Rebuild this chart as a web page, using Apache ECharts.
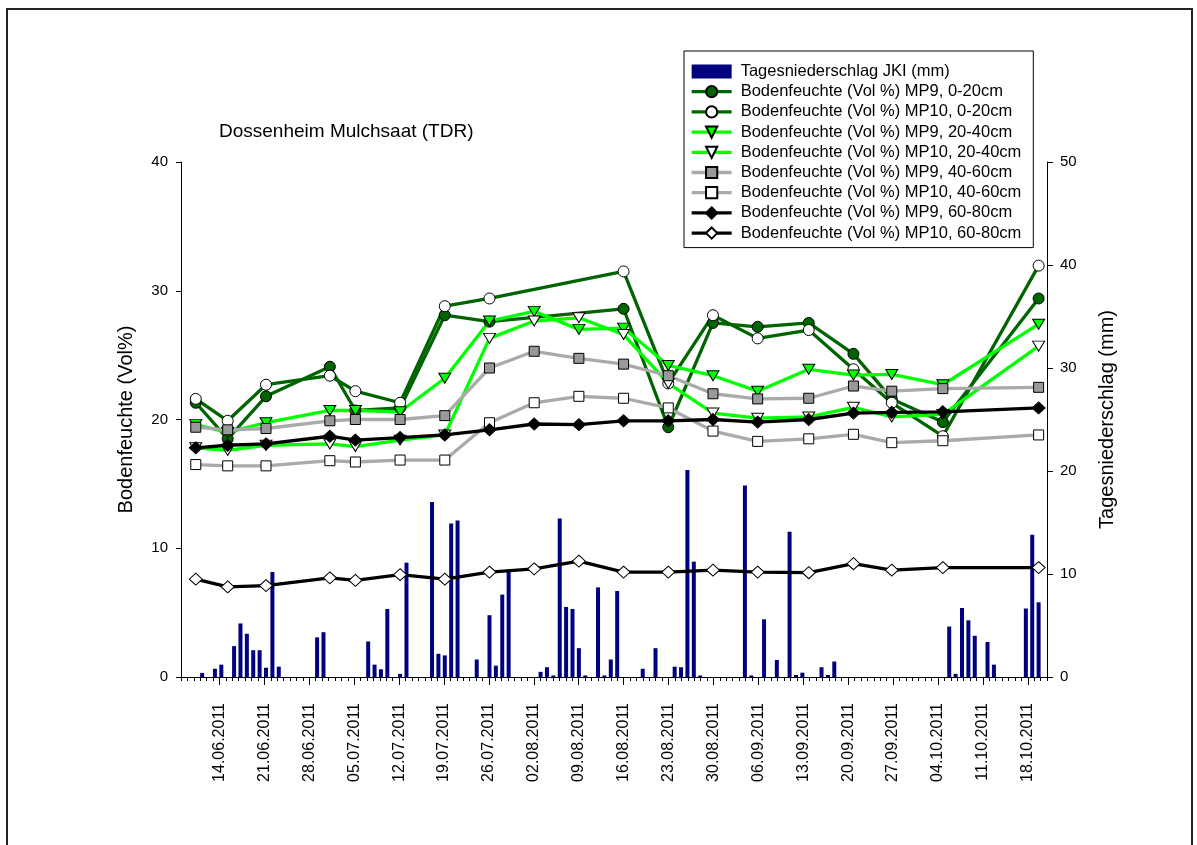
<!DOCTYPE html>
<html><head><meta charset="utf-8">
<script src="https://cdn.jsdelivr.net/npm/echarts@6/dist/echarts.min.js"></script>
<style>html,body{margin:0;padding:0;background:#fff}#c{width:1197px;height:845px}</style>
</head><body><div id="c"></div>
<script>
// ---- data ----
const soilDates = ['2011-06-10','2011-06-15','2011-06-21','2011-07-01','2011-07-05','2011-07-12','2011-07-19','2011-07-26','2011-08-02','2011-08-09','2011-08-16','2011-08-23','2011-08-30','2011-09-06','2011-09-14','2011-09-21','2011-09-27','2011-10-05','2011-10-20'];
const mp9_0_20   = [21.3, 18.5, 21.8, 24.1, 20.7, 20.9, 28.1, 27.6, null, null, 28.6, 19.4, 27.5, 27.2, 27.5, 25.1, 21.6, 19.8, 29.4];
const mp10_0_20  = [21.6, 19.9, 22.7, 23.4, 22.2, 21.3, 28.8, 29.4, null, null, 31.5, 22.8, 28.1, 26.3, 26.95, 23.9, 21.3, 18.7, 31.95];
const mp9_20_40  = [19.6, 19.0, 19.75, 20.7, 20.7, 20.6, 23.2, 27.65, 28.4, 27.0, 27.1, 24.2, 23.4, 22.2, 23.9, 23.45, 23.5, 22.7, 27.4];
const mp10_20_40 = [17.8, 17.6, 18.0, 18.1, 17.9, 18.4, 18.8, 26.3, 27.65, 27.9, 26.6, 22.8, 20.5, 20.1, 20.2, 20.95, 20.2, 20.4, 25.7];
const mp9_40_60  = [19.4, 19.2, 19.3, 19.9, 20.0, 20.0, 20.3, 24.0, 25.3, 24.75, 24.3, 23.4, 22.0, 21.6, 21.65, 22.6, 22.2, 22.4, 22.5];
const mp10_40_60 = [16.5, 16.4, 16.4, 16.8, 16.7, 16.85, 16.85, 19.75, 21.3, 21.8, 21.65, 20.9, 19.1, 18.3, 18.5, 18.85, 18.2, 18.35, 18.8];
const mp9_60_80  = [17.8, 18.0, 18.1, 18.7, 18.4, 18.6, 18.8, 19.2, 19.65, 19.6, 19.9, 19.9, 20.0, 19.8, 20.0, 20.5, 20.55, 20.6, 20.9];
const mp10_60_80 = [7.6, 7.0, 7.1, 7.7, 7.5, 7.95, 7.6, 8.15, 8.4, 9.0, 8.15, 8.15, 8.3, 8.15, 8.1, 8.8, 8.3, 8.5, 8.5];

const rainDates = ['2011-06-11','2011-06-13','2011-06-14','2011-06-16','2011-06-17','2011-06-18','2011-06-19','2011-06-20','2011-06-21','2011-06-22','2011-06-23','2011-06-29','2011-06-30',
 '2011-07-07','2011-07-08','2011-07-09','2011-07-10','2011-07-12','2011-07-13','2011-07-17','2011-07-18','2011-07-19','2011-07-20','2011-07-21','2011-07-24','2011-07-26','2011-07-27','2011-07-28','2011-07-29',
 '2011-08-03','2011-08-04','2011-08-05','2011-08-06','2011-08-07','2011-08-08','2011-08-09','2011-08-10','2011-08-12','2011-08-13','2011-08-14','2011-08-15','2011-08-19','2011-08-21','2011-08-24','2011-08-25','2011-08-26','2011-08-27','2011-08-28',
 '2011-09-04','2011-09-05','2011-09-07','2011-09-09','2011-09-11','2011-09-12','2011-09-13','2011-09-16','2011-09-17','2011-09-18',
 '2011-10-06','2011-10-07','2011-10-08','2011-10-09','2011-10-10','2011-10-12','2011-10-13','2011-10-18','2011-10-19','2011-10-20'];
const rainValues = [0.4, 0.8, 1.2, 3.0, 5.2, 4.2, 2.6, 2.6, 0.9, 10.2, 1.0, 3.85, 4.35,
 3.45, 1.2, 0.75, 6.6, 0.3, 11.1, 17.0, 2.25, 2.1, 14.9, 15.2, 1.7, 6.0, 1.1, 8.0, 10.2,
 0.5, 0.95, 0.15, 15.4, 6.8, 6.6, 2.8, 0.15, 8.7, 0.15, 1.7, 8.35, 0.8, 2.8, 1.0, 0.95, 20.1, 11.2, 0.15,
 18.6, 0.15, 5.6, 1.65, 14.1, 0.2, 0.42, 0.95, 0.2, 1.5,
 4.9, 0.3, 6.7, 5.5, 4.0, 3.4, 1.2, 6.65, 13.8, 7.25];

const tickLabels = ['14.06.2011','21.06.2011','28.06.2011','05.07.2011','12.07.2011','19.07.2011','26.07.2011','02.08.2011','09.08.2011','16.08.2011','23.08.2011','30.08.2011','06.09.2011','13.09.2011','20.09.2011','27.09.2011','04.10.2011','11.10.2011','18.10.2011'];
const leftTicks = [0, 10, 20, 30, 40];
const rightTicks = [0, 10, 20, 30, 40, 50];
const axisStart = '2011-06-08', axisEnd = '2011-10-21';

// ---- build ----
const FONT = 'Arial, "Liberation Sans", sans-serif';
const days = [];
{
  const s = new Date(Date.UTC(2011, 5, 8)), e = new Date(Date.UTC(2011, 9, 21));
  for (let d = new Date(s); d <= e; d.setUTCDate(d.getUTCDate() + 1)) {
    const dd = String(d.getUTCDate()).padStart(2, '0'), mm = String(d.getUTCMonth() + 1).padStart(2, '0');
    days.push(dd + '.' + mm + '.' + d.getUTCFullYear());
  }
}
const isMajor = (i, v) => tickLabels.indexOf(v !== undefined ? v : days[i]) >= 0;

function lineSeries(name, values, color, symbol, fill, size, rotate) {
  return {
    name, type: 'line', xAxisIndex: 0, yAxisIndex: 0,
    data: soilDates.map((d, i) => [d, values[i] === null ? '-' : values[i]]),
    connectNulls: true, showAllSymbol: true,
    symbol, symbolSize: size, symbolRotate: rotate || 0,
    lineStyle: { color, width: 3.3 },
    itemStyle: { color: fill, borderColor: '#000', borderWidth: 1 },
    emphasis: { disabled: true }
  };
}
const DG = '#006400', LG = '#00FF00', GR = '#AAAAAA';
const series = [
  { name: 'Tagesniederschlag JKI (mm)', type: 'bar', xAxisIndex: 0, yAxisIndex: 1,
    data: rainDates.map((d, i) => [d, rainValues[i]]), barWidth: 4,
    itemStyle: { color: '#000080' }, emphasis: { disabled: true } },
  lineSeries('Bodenfeuchte (Vol %) MP9, 0-20cm', mp9_0_20, DG, 'circle', DG, 11),
  lineSeries('Bodenfeuchte (Vol %) MP10, 0-20cm', mp10_0_20, DG, 'circle', '#fff', 11),
  lineSeries('Bodenfeuchte (Vol %) MP9, 20-40cm', mp9_20_40, LG, 'triangle', LG, [12, 10], 180),
  lineSeries('Bodenfeuchte (Vol %) MP10, 20-40cm', mp10_20_40, LG, 'triangle', '#fff', [12, 10], 180),
  lineSeries('Bodenfeuchte (Vol %) MP9, 40-60cm', mp9_40_60, GR, 'rect', '#999999', 10),
  lineSeries('Bodenfeuchte (Vol %) MP10, 40-60cm', mp10_40_60, GR, 'rect', '#fff', 10),
  lineSeries('Bodenfeuchte (Vol %) MP9, 60-80cm', mp9_60_80, '#000', 'diamond', '#000', [13, 12]),
  lineSeries('Bodenfeuchte (Vol %) MP10, 60-80cm', mp10_60_80, '#000', 'diamond', '#fff', [13, 12])
];

const chart = echarts.init(document.getElementById('c'), null, { renderer: 'canvas' });
chart.setOption({
  animation: false,
  backgroundColor: '#fff',
  textStyle: { fontFamily: FONT, color: '#000' },
  title: { text: 'Dossenheim Mulchsaat (TDR)', left: 214, top: 117,
    textStyle: { fontFamily: FONT, fontSize: 19, fontWeight: 'normal', color: '#000' } },
  legend: {
    orient: 'vertical', left: 684, top: 51,
    padding: [12, 12, 6, 6], itemGap: 3.2, itemWidth: 40, itemHeight: 14,
    borderColor: '#000', borderWidth: 1, backgroundColor: '#fff',
    lineStyle: { width: 3.3 },
    textStyle: { fontFamily: FONT, fontSize: 16.5, color: '#000', padding: [0, 0, 0, 4] },
    data: series.map((s, i) => i === 0 ? { name: s.name, icon: 'rect' } : s.name)
  },
  grid: { left: 181, right: 150, top: 162, bottom: 168 },
  xAxis: [
    { type: 'time', min: axisStart, max: axisEnd, position: 'bottom',
      axisLine: { show: true, lineStyle: { color: '#000', width: 1 } },
      axisTick: { show: false }, axisLabel: { show: false }, splitLine: { show: false } },
    { type: 'category', data: days, boundaryGap: false, position: 'bottom',
      axisLine: { show: false }, axisLabel: { show: false },
      axisTick: { show: true, interval: 0, length: 4, lineStyle: { color: '#000' } }, splitLine: { show: false } },
    { type: 'category', data: days, boundaryGap: false, position: 'bottom',
      axisLine: { show: false },
      axisTick: { show: true, interval: isMajor, length: 8, lineStyle: { color: '#000' } },
      axisLabel: { show: true, interval: isMajor, rotate: 90, margin: 26,
        fontFamily: FONT, fontSize: 16, color: '#000' },
      splitLine: { show: false } }
  ],
  yAxis: [
    { type: 'value', min: leftTicks[0], max: leftTicks[leftTicks.length - 1], interval: 10, position: 'left',
      name: 'Bodenfeuchte (Vol%)', nameLocation: 'middle', nameGap: 45,
      nameTextStyle: { fontFamily: FONT, fontSize: 20, color: '#000' },
      axisLine: { show: true, lineStyle: { color: '#000' } },
      axisTick: { show: true, length: 5, lineStyle: { color: '#000' } },
      axisLabel: { margin: 13, fontFamily: FONT, fontSize: 15, color: '#000' },
      splitLine: { show: false } },
    { type: 'value', min: rightTicks[0], max: rightTicks[rightTicks.length - 1], interval: 10, position: 'right',
      name: 'Tagesniederschlag (mm)', nameLocation: 'middle', nameGap: 50,
      nameTextStyle: { fontFamily: FONT, fontSize: 20, color: '#000' },
      axisLine: { show: true, lineStyle: { color: '#000' } },
      axisTick: { show: true, length: 6, lineStyle: { color: '#000' } },
      axisLabel: { margin: 13, fontFamily: FONT, fontSize: 15, color: '#000' },
      splitLine: { show: false } }
  ],
  graphic: [
    { type: 'rect', z: 100, silent: true, shape: { x: 7, y: 9, width: 1185, height: 900 },
      style: { fill: 'none', stroke: '#222', lineWidth: 2 } }
  ],
  series
});
</script>
</body></html>
